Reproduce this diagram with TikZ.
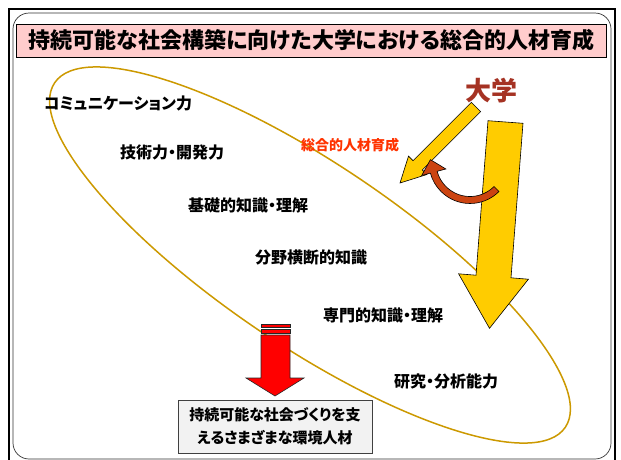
\documentclass[tikz,border=0pt]{standalone}
\usepackage{fontspec}
\setmainfont{Noto Sans CJK JP}[RawFeature=+palt]
\usetikzlibrary{calc}
\definecolor{gold}{RGB}{204,153,0}
\definecolor{lblred}{RGB}{255,51,0}
\definecolor{unired}{RGB}{165,50,35}
\definecolor{yel}{RGB}{255,204,0}
\definecolor{curv}{RGB}{204,68,17}
\definecolor{pinkbg}{RGB}{255,204,204}
\definecolor{boxbg}{RGB}{242,242,242}
\tikzset{
  lbl/.style={font=\bfseries\fontsize{16}{18}\selectfont, inner sep=0pt},
  yarrow/.style={fill=yel, draw=black, line width=0.6pt, line join=miter},
}
\begin{document}
\begin{tikzpicture}[x=1pt,y=-1pt]
\useasboundingbox (0,0) rectangle (621,459);
\fill[white] (0,0) rectangle (621,459);
% frames
\draw[black, line width=2pt] (9,9) rectangle (615,475);
\draw[black!80, line width=0.7pt, rounded corners=16pt] (13,13) rectangle (611,459);
% title
\node[draw=black, line width=0.8pt, fill=pinkbg, minimum width=590pt, minimum height=33pt, inner sep=0pt,
      font=\bfseries\fontsize{22}{24}\selectfont] (title) at (311.5,40.5) {持続可能な社会構築に向けた大学における総合的人材育成};
% ellipse
\draw[gold, line width=1.5pt] (310,255) ellipse [x radius=308pt, y radius=91pt, rotate=-34];
% labels
\node[lbl] (comm) at (118,103) {コミュニケーション力};
\node[lbl] (tech) at (172,152) {技術力・開発力};
\node[lbl] (basic) at (248,205) {基礎的知識・理解};
\node[lbl] (cross) at (311,257) {分野横断的知識};
\node[lbl] (spec) at (383,315) {専門的知識・理解};
\node[lbl] (res) at (446,381) {研究・分析能力};
\node[inner sep=0pt, text=lblred, font=\bfseries\fontsize{14}{16}\selectfont] (sogo) at (350,145) {総合的人材育成};
\node[inner sep=0pt, text=unired, font=\bfseries\fontsize{26}{28}\selectfont] (univ) at (491,91) {大学};
% big yellow arrow
\draw[yarrow] (488,120.7) -- (523,123.3) -- (511,277.8) -- (528.4,279.2) -- (489.5,328.3) -- (458.6,273.8) -- (476,275.2) -- cycle;
% small yellow arrow
\draw[yarrow] (471.4,102.4) -- (480.6,111.6) -- (422.3,169.9) -- (426.9,174.5) -- (400,183) -- (408.5,156.1) -- (413.1,160.7) -- cycle;
% curved arrow
\coordinate (cc) at (470,162.5);
\draw[fill=curv, draw=black, line width=0.6pt, line join=miter]
  ($(cc)+(45:41)$) arc[start angle=45, end angle=165, radius=41]
  -- ($(cc)+(165:50)$) -- ($(cc)+(165:37.5)+(255:13)$) -- ($(cc)+(165:25)$)
  -- ($(cc)+(165:34)$) arc[start angle=165, end angle=45, radius=34] -- cycle;
% red striped arrow
\begin{scope}[fill=red, draw=black!85, line width=0.6pt]
\filldraw (261,324) rectangle (290,327);
\filldraw (261,329) rectangle (290,333);
\filldraw (261,335) -- (290,335) -- (290,378) -- (304,378) -- (275,396) -- (246,378) -- (261,378) -- cycle;
\end{scope}
% bottom box
\node[draw=black!75, line width=0.8pt, fill=boxbg, minimum width=194pt, minimum height=53pt, inner sep=0pt,
      align=center, font=\bfseries\fontsize{15}{23}\selectfont] (result) at (275,426.5)
      {持続可能な社会づくりを支\\えるさまざまな環境人材};
\end{tikzpicture}
\end{document}
